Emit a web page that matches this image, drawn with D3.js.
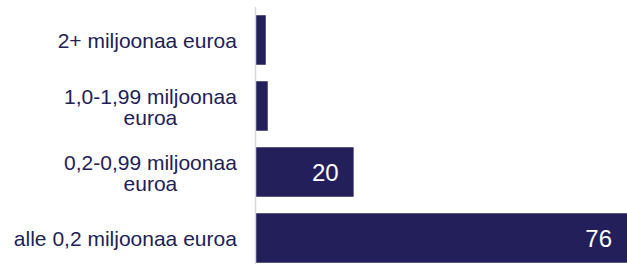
<!DOCTYPE html>
<html>
<head>
<meta charset="utf-8">
<script src="https://cdn.jsdelivr.net/npm/d3@7"></script>
<style>
  body { margin: 0; background: #fff; }
  svg { display: block; font-family: "Liberation Sans", Arial, sans-serif; }
</style>
</head>
<body>
<div class="chart"></div>
<script>
// categories, top to bottom (each entry is the wrapped lines)
const categories = [
    ["2+ miljoonaa euroa"],
    ["1,0-1,99 miljoonaa", "euroa"],
    ["0,2-0,99 miljoonaa", "euroa"],
    ["alle 0,2 miljoonaa euroa"]
];
const values = [2, 2.4, 20, 76];
const valueLabels = ["", "", "20", "76"];

const width = 627;
const height = 264;
const axisX = 256;

const svg = d3.select(".chart")
    .append("svg")
    .attr("width", width)
    .attr("height", height);

// scales
const xScale = d3.scaleLinear()
    .domain([0, 76])
    .range([axisX, width]);

const yScale = d3.scaleBand()
    .domain(d3.range(categories.length))
    .range([7, 271])
    .paddingInner(0.25)
    .paddingOuter(0.125);

// bars
svg.selectAll("rect.bar")
    .data(values)
    .enter()
    .append("rect")
    .attr("class", "bar")
    .attr("x", xScale(0))
    .attr("y", (d, i) => yScale(i))
    .attr("width", d => xScale(d) - xScale(0))
    .attr("height", yScale.bandwidth())
    .attr("fill", "#221f5b");

// vertical axis line
svg.append("line")
    .attr("x1", axisX - 0.5)
    .attr("x2", axisX - 0.5)
    .attr("y1", 7)
    .attr("y2", height)
    .attr("stroke", "#d9d9d9")
    .attr("stroke-width", 1.5);

// category labels
const lineH = 21.5;
const labels = svg.selectAll("g.label")
    .data(categories)
    .enter()
    .append("g")
    .attr("class", "label")
    .attr("transform", (d, i) => `translate(237, ${yScale(i) + yScale.bandwidth() / 2 + 1})`);

labels.each(function(lines) {
    const t = d3.select(this).append("text")
        .attr("text-anchor", "middle")
        .attr("fill", "#222157")
        .style("font-size", "21px");
    lines.forEach((line, j) => {
        t.append("tspan")
            .attr("x", 0)
            .attr("y", (j - (lines.length - 1) / 2) * lineH)
            .attr("dy", "0.35em")
            .text(line);
    });
    // right-align the block, centre the lines within it
    const w = t.node().getBBox().width;
    t.attr("transform", `translate(${-w / 2}, 0)`);
});

// value labels inside the bars
svg.selectAll("text.value")
    .data(values)
    .enter()
    .append("text")
    .attr("class", "value")
    .attr("x", d => xScale(d) - 15)
    .attr("y", (d, i) => yScale(i) + yScale.bandwidth() / 2)
    .attr("dy", "0.36em")
    .attr("text-anchor", "end")
    .attr("fill", "#ffffff")
    .style("font-size", "24px")
    .text((d, i) => valueLabels[i]);
</script>
</body>
</html>
